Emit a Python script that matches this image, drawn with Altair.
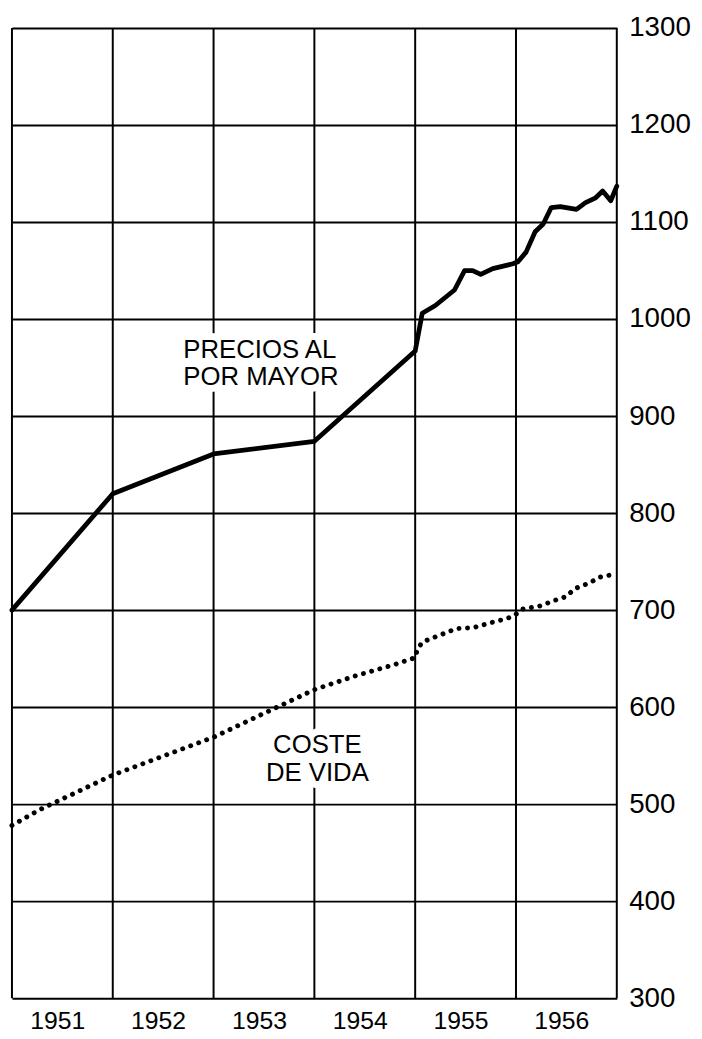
import altair as alt
import pandas as pd

# ---- data ----
grid_years = [1951, 1952, 1953, 1954, 1955, 1956, 1957]
y_ticks = [300, 400, 500, 600, 700, 800, 900, 1000, 1100, 1200, 1300]
year_label_pos = [1951.45, 1952.45, 1953.45, 1954.45, 1955.45, 1956.45]

# Precios al por mayor (solid line)
wp_year = [1951.0, 1952.0, 1953.0, 1954.0, 1955.0, 1955.07, 1955.20, 1955.39,
           1955.49, 1955.57, 1955.65, 1955.77, 1955.97, 1956.02, 1956.10,
           1956.19, 1956.27, 1956.35, 1956.44, 1956.60, 1956.69, 1956.79,
           1956.86, 1956.94, 1957.0]
wp_value = [700, 820, 861, 874, 967, 1006, 1014, 1030,
            1050, 1050, 1046, 1052, 1057, 1059, 1069,
            1090, 1098, 1115, 1116, 1113, 1120, 1125,
            1132, 1122, 1137]

# Coste de vida (dotted line)
col_year = [1951.0, 1951.27, 1952.0, 1953.0, 1953.55, 1954.0, 1954.4, 1954.8,
            1955.0, 1955.02, 1955.07, 1955.24, 1955.41, 1955.58, 1955.75,
            1955.9, 1955.98, 1956.06, 1956.23, 1956.41, 1956.5, 1956.58,
            1956.73, 1956.83, 1956.98]
col_value = [478, 494, 530, 569, 596, 618, 632, 644,
             651, 659, 667, 674, 681, 682, 687,
             691, 694, 701, 704, 711, 714, 722,
             728, 734, 737]

# in-chart labels
lab_text = ["PRECIOS AL", "POR MAYOR", "COSTE", "DE VIDA"]
lab_x = [1952.70, 1952.70, 1954.03, 1954.03]
lab_y = [960, 932, 553, 524]
lab_align = ["left", "left", "center", "center"]

FONT = "Liberation Sans"
W, H = 611, 980

x_scale = alt.Scale(domain=[1951, 1957], nice=False, zero=False)
y_scale = alt.Scale(domain=[300, 1300], nice=False, zero=False)

vgrid_df = pd.DataFrame({"year": grid_years,
                         "lo": [300] * len(grid_years),
                         "hi": [1300] * len(grid_years)})
wp_df = pd.DataFrame({"year": wp_year, "value": wp_value})
col_df = pd.DataFrame({"year": col_year, "value": col_value})
lab_df = pd.DataFrame({"text": lab_text, "x": lab_x, "y": lab_y, "align": lab_align})

x_axis = alt.Axis(values=year_label_pos, labelExpr="floor(datum.value)",
                  grid=False, domain=False, ticks=False,
                  labelFont=FONT, labelFontSize=25, labelColor="black",
                  labelPadding=11, title=None)
y_axis = alt.Axis(orient="right", values=y_ticks, format="d", grid=True,
                  gridColor="black", gridWidth=2, gridOpacity=1,
                  domain=False, ticks=False, labelFont=FONT,
                  labelFontSize=28, labelColor="black",
                  labelPadding=12, title=None)


def X(field):
    return alt.X(field, scale=x_scale, axis=x_axis, title=None)


def Y(field):
    return alt.Y(field, scale=y_scale, axis=y_axis, title=None)


vgrid = alt.Chart(vgrid_df).mark_rule(color="black", strokeWidth=2).encode(
    x=X("year:Q"), y=Y("lo:Q"), y2="hi:Q",
)

layers = [vgrid]
for al in ["left", "center"]:
    sub = lab_df[lab_df["align"] == al]
    layers.append(alt.Chart(sub).mark_text(
        font=FONT, fontSize=26, align=al, baseline="alphabetic",
        stroke="white", strokeWidth=14, strokeJoin="round", color="white"
    ).encode(x=X("x:Q"), y=Y("y:Q"), text="text:N"))
for al in ["left", "center"]:
    sub = lab_df[lab_df["align"] == al]
    layers.append(alt.Chart(sub).mark_text(
        font=FONT, fontSize=26, align=al, baseline="alphabetic", color="black"
    ).encode(x=X("x:Q"), y=Y("y:Q"), text="text:N"))

wp_line = alt.Chart(wp_df).mark_line(color="black", strokeWidth=4.8,
                                     strokeJoin="round", strokeCap="round").encode(
    x=X("year:Q"), y=Y("value:Q"),
)

col_line = alt.Chart(col_df).mark_line(color="black", strokeWidth=5,
                                       strokeCap="round", strokeDash=[0.01, 8.6]).encode(
    x=X("year:Q"), y=Y("value:Q"),
)
layers += [wp_line, col_line]

chart = alt.layer(*layers).properties(
    width=W, height=H,
    padding={"left": 4, "top": 15, "right": 78, "bottom": 34},
    autosize=alt.AutoSizeParams(type="none"),
    background="white",
).configure_view(stroke=None)

chart.save("out.html", embed_options={"renderer": "svg", "actions": False})
